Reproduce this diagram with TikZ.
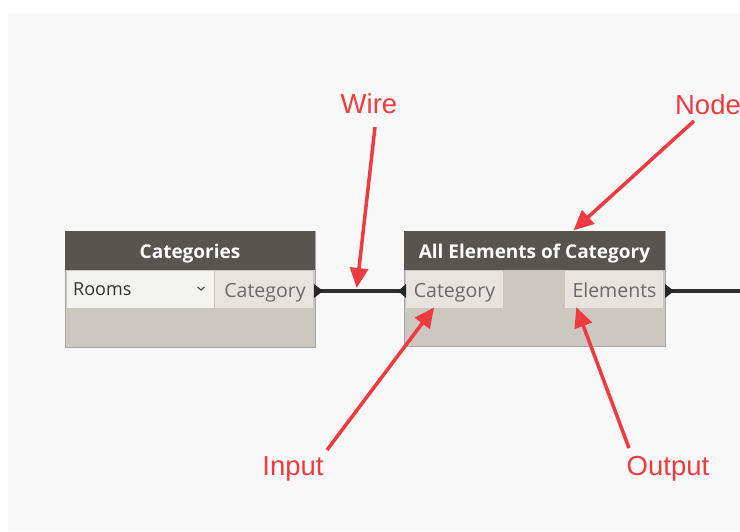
\documentclass[tikz,border=0pt]{standalone}
\usepackage{fontspec}
\setmainfont{Open Sans}
\newfontfamily\labelfont{Liberation Sans}
\usetikzlibrary{arrows.meta}
\definecolor{bgc}{HTML}{F8F8F8}
\definecolor{hdr}{HTML}{58544F}
\definecolor{bodyc}{HTML}{CCC7C0}
\definecolor{portc}{HTML}{E7E4DF}
\definecolor{combo}{HTML}{F3F3F2}
\definecolor{redc}{HTML}{EF3B3F}
\definecolor{wirec}{HTML}{2E2E2E}
\definecolor{ptext}{HTML}{6A6A6A}
\tikzset{
  frame/.style={draw=gray!70, line width=0.8pt, fill=bodyc, inner sep=0pt},
  header/.style={fill=hdr, inner sep=0pt, text=white, font=\fontsize{19}{22}\selectfont\bfseries, text height=13.6pt, text depth=0pt},
  portbox/.style={fill=portc, inner sep=0pt, text=ptext, font=\fontsize{19.5}{22}\selectfont, text height=13.9pt, text depth=0pt},
  combobox/.style={fill=combo, inner sep=0pt},
  lbl/.style={text=redc, font=\labelfont\fontsize{27.5}{32}\selectfont, inner sep=0pt, text height=19.7pt, text depth=0pt},
  pointer/.style={draw=redc, line width=3.5pt, -{Triangle[length=20pt,width=18pt]}, shorten >=-2pt},
  wire/.style={draw=wirec, line width=3.4pt},
  marker/.style={fill=black!85, draw=none}
}
\begin{document}
\begin{tikzpicture}[x=1pt,y=-1pt]
\useasboundingbox (0,0) rectangle (740,531);
\fill[white] (0,0) rectangle (740,531);
\fill[bgc] (8,14) rectangle (740,531);
% node 1
\node[frame, minimum width=250pt, minimum height=116pt] (n1) at (190,289) {};
\node[header, minimum width=250pt, minimum height=39pt] (h1) at (190,250.5) {};
\node[header] (t1) at (190,251.5) {Categories};
\node[combobox, minimum width=147pt, minimum height=37pt] (cb) at (140.5,289.5) {};
\node[anchor=west, text=black!80, font=\fontsize{18}{20}\selectfont, inner sep=0pt, text height=12.9pt, text depth=0pt] (rooms) at (73,289.5) {Rooms};
\coordinate (chev) at (201,290);
\draw[black!65, line width=1.3pt] ([shift={(-3.5,-3)}]chev) -- (chev) -- ([shift={(3.5,-3)}]chev);
\node[portbox, minimum width=98pt, minimum height=37pt] (p1) at (264,289.5) {};
\node[portbox] (pt1) at (265,291) {Category};
% node 2
\node[frame, minimum width=261pt, minimum height=115pt] (n2) at (534.5,288.5) {};
\node[header, minimum width=261pt, minimum height=39pt] (h2) at (534.5,250.5) {};
\node[header] (t2) at (534.5,251.5) {All Elements of Category};
\node[portbox, minimum width=97pt, minimum height=37pt] (in2) at (454.5,289.5) {};
\node[portbox] (it2) at (454.5,291) {Category};
\node[portbox, minimum width=98pt, minimum height=37pt] (out2) at (614,289.5) {};
\node[portbox] (ot2) at (614.5,291) {Elements};
% wires
\coordinate (a1) at (319,291);
\coordinate (a2) at (402,291);
\coordinate (a3) at (669,291);
\coordinate (wend) at (740,291);
\draw[wire] (a1) -- (a2);
\draw[wire] (a3) -- (wend);
\fill[marker] (314,284) -- (323,291) -- (314,298) -- cycle;
\fill[marker] (406,284) -- (398,291) -- (406,298) -- cycle;
\fill[marker] (665,284) -- (674,291) -- (665,298) -- cycle;
% labels
\node[lbl] (lw) at (369,104) {Wire};
\node[lbl] (ln) at (708,104.5) {Node};
\node[lbl] (li) at (293,466) {Input};
\node[lbl] (lo) at (668,465.5) {Output};
\coordinate (tw) at (357,286);
\coordinate (tn) at (575,229);
\coordinate (ti) at (433,309);
\coordinate (to) at (577,309);
\draw[pointer] (375,127) -- (tw);
\draw[pointer] (694,121) -- (tn);
\draw[pointer] (327,450) -- (ti);
\draw[pointer] (629,448) -- (to);
\end{tikzpicture}
\end{document}
